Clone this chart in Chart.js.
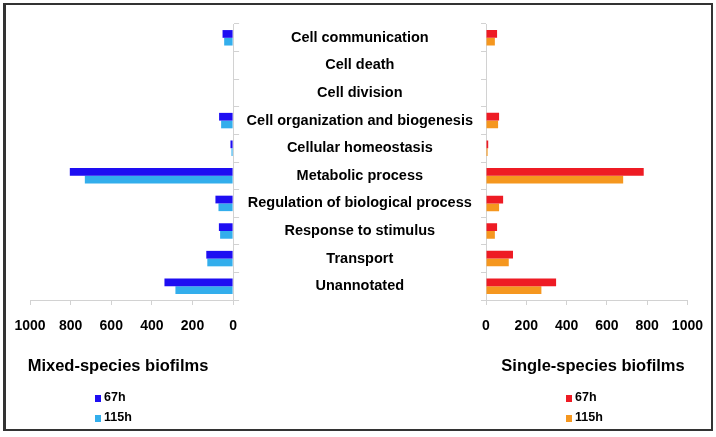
<!DOCTYPE html>
<html>
<head>
<meta charset="utf-8">
<script src="https://cdn.jsdelivr.net/npm/chart.js@4.4.0/dist/chart.umd.min.js"></script>
<style>
    body { margin: 0; background: #fff; font-family: "Liberation Sans", Arial, sans-serif; }
    #wrap { position: relative; width: 716px; height: 437px; overflow: hidden; }
    #frame { position: absolute; left: 3px; top: 3px; width: 705px; height: 424px; border: 2px solid #333; border-left-width: 3px; }
    canvas { position: absolute; top: 0; }
    #leftChart { left: 0; }
    #rightChart { left: 240px; }
    .subtitle { position: absolute; top: 356px; font-weight: bold; font-size: 16.5px; color: #000; white-space: nowrap; transform: translateX(-50%); }
    .legend { position: absolute; top: 388px; font-weight: bold; font-size: 12.5px; color: #000; }
    .legend div { height: 20px; line-height: 18px; white-space: nowrap; }
    .legend span { display: inline-block; width: 6px; height: 7px; margin-right: 3px; vertical-align: -1px; }
</style>
</head>
<body>
<div id="wrap">
    <div id="frame"></div>
    <canvas id="leftChart" width="250" height="437"></canvas>
    <canvas id="rightChart" width="476" height="437"></canvas>
    <div class="subtitle" id="leftTitle" style="left:118px"></div>
    <div class="subtitle" id="rightTitle" style="left:593px"></div>
    <div class="legend" id="leftLegend" style="left:95px"></div>
    <div class="legend" id="rightLegend" style="left:566px"></div>
</div>
<script>
// Categories (top to bottom)
const categories = [
    'Cell communication',
    'Cell death',
    'Cell division',
    'Cell organization and biogenesis',
    'Cellular homeostasis',
    'Metabolic process',
    'Regulation of biological process',
    'Response to stimulus',
    'Transport',
    'Unannotated'
];

// Number of genes per category
const mixed67h   = [52, 0, 0, 69, 13, 804, 87, 70, 132, 338];
const mixed115h  = [44, 0, 0, 59, 8, 730, 72, 64, 127, 284];
const single67h  = [55, 0, 0, 65, 11, 783, 85, 55, 134, 348];
const single115h = [44, 0, 0, 60, 8, 681, 65, 44, 113, 275];

const seriesLabels = ['67h', '115h'];
const panelTitles = ['Mixed-species biofilms', 'Single-species biofilms'];
const mixedColors = ['#1e0ef2', '#33aeec'];
const singleColors = ['#ee1b24', '#f5971f'];

// Axis range
const xMin = 0;
const xMax = 1000;
const xStep = 200;

const axisGray = '#d2d2d2';
const tickFont = { family: 'Liberation Sans', size: 14, weight: 'bold' };

function makeDatasets(values, colors) {
    return values.map((v, i) => ({
        label: seriesLabels[i],
        data: v,
        backgroundColor: colors[i],
        borderWidth: 0,
        categoryPercentage: 0.56,
        barPercentage: 1.0
    }));
}

function xScale(reverse) {
    return {
        type: 'linear',
        position: 'bottom',
        min: xMin,
        max: xMax,
        reverse: reverse,
        border: { color: axisGray, width: 1 },
        grid: { drawOnChartArea: false, color: axisGray, tickLength: 5 },
        ticks: {
            stepSize: xStep,
            color: '#000',
            font: tickFont,
            padding: 13,
            maxRotation: 0,
            callback: v => String(v)
        },
        afterFit: s => { s.height = 137; }
    };
}

// Left panel: mixed-species, axis reversed
new Chart(document.getElementById('leftChart'), {
    type: 'bar',
    data: {
        labels: categories,
        datasets: makeDatasets([mixed67h, mixed115h], mixedColors)
    },
    options: {
        indexAxis: 'y',
        responsive: false,
        animation: false,
        devicePixelRatio: 1,
        layout: { padding: { left: 30, top: 24, right: 0, bottom: 0 } },
        plugins: { legend: { display: false }, tooltip: { enabled: false } },
        scales: {
            x: xScale(true),
            y: {
                position: 'right',
                border: { color: axisGray, width: 1 },
                grid: { drawOnChartArea: false, color: axisGray, tickLength: 6, offset: true },
                ticks: { display: false },
                afterFit: s => { s.width = 16; }
            }
        }
    }
});

// Right panel: single-species, carries the category labels
new Chart(document.getElementById('rightChart'), {
    type: 'bar',
    data: {
        labels: categories,
        datasets: makeDatasets([single67h, single115h], singleColors)
    },
    options: {
        indexAxis: 'y',
        responsive: false,
        animation: false,
        devicePixelRatio: 1,
        layout: { padding: { left: 0, top: 24, right: 26, bottom: 0 } },
        plugins: { legend: { display: false }, tooltip: { enabled: false } },
        scales: {
            x: xScale(false),
            y: {
                position: 'left',
                border: { color: axisGray, width: 1 },
                grid: { drawOnChartArea: false, color: axisGray, tickLength: 5, offset: true },
                ticks: {
                    color: '#000',
                    crossAlign: 'center',
                    padding: 8,
                    font: { family: 'Liberation Sans', size: 14.5, weight: 'bold' }
                },
                afterFit: s => { s.width = 246; }
            }
        }
    }
});

// Panel titles and legends
document.getElementById('leftTitle').textContent = panelTitles[0];
document.getElementById('rightTitle').textContent = panelTitles[1];

function buildLegend(id, colors) {
    const el = document.getElementById(id);
    seriesLabels.forEach((lbl, i) => {
        const row = document.createElement('div');
        const sw = document.createElement('span');
        sw.style.background = colors[i];
        row.appendChild(sw);
        row.appendChild(document.createTextNode(lbl));
        el.appendChild(row);
    });
}
buildLegend('leftLegend', mixedColors);
buildLegend('rightLegend', singleColors);
</script>
</body>
</html>
